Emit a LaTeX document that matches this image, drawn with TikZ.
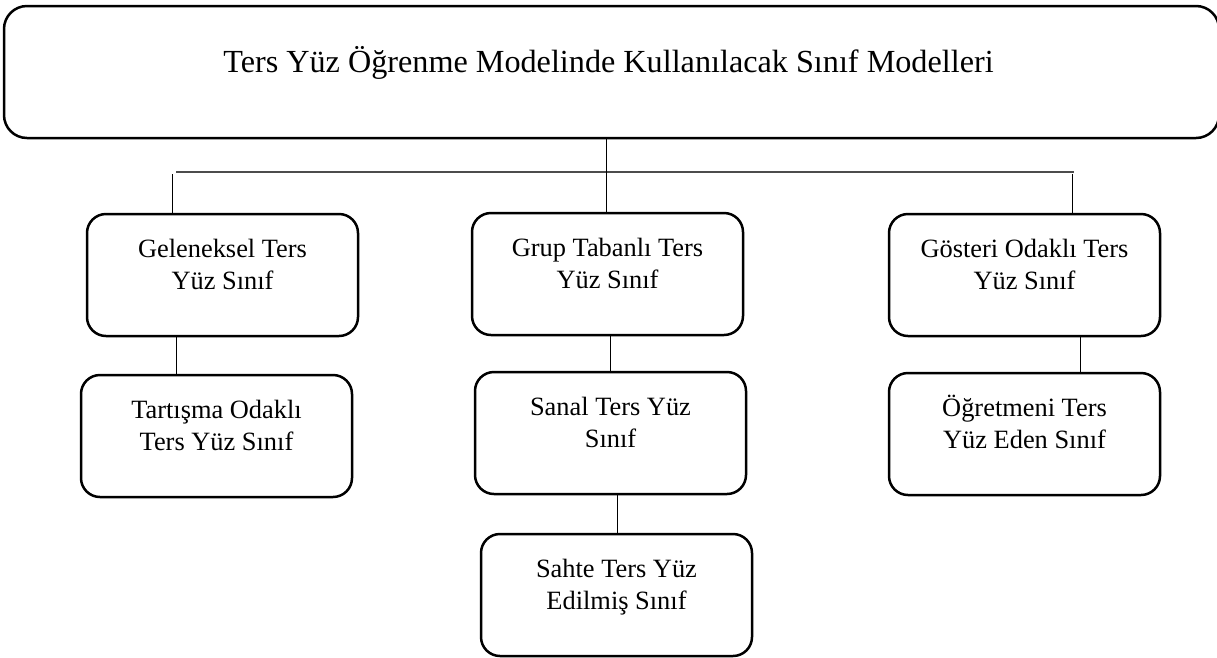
\documentclass[tikz,border=0pt]{standalone}
\usepackage{fontspec}
\setmainfont{Liberation Serif}
\usetikzlibrary{calc}
\begin{document}
\begin{tikzpicture}[x=1pt,y=-1pt,
  boxstyle/.style={draw, line width=2.5pt, rounded corners=19pt, minimum width=271pt,
    minimum height=122pt, anchor=north west, inner sep=0pt, outer sep=0pt},
  txt/.style={align=center, inner sep=0pt, font=\fontsize{26.4}{32}\selectfont},
  conn/.style={line width=1pt, black},
  hline/.style={line width=1.5pt, black!70},
]
\useasboundingbox (0,0) rectangle (1217,657);

% top box
\node[draw, line width=2.5pt, rounded corners=23pt, minimum width=1215pt, minimum height=132pt,
  anchor=north west, inner sep=0pt, outer sep=0pt] (topbox) at (4,6) {};
\node[font=\fontsize{32.2}{38}\selectfont, anchor=base, inner sep=0pt] (title) at (608.5,72)
  {Ters Yüz Öğrenme Modelinde Kullanılacak Sınıf Modelleri};

% boxes
\node[boxstyle] (b1) at (87,214) {};
\node[boxstyle] (b2) at (472,213) {};
\node[boxstyle] (b3) at (889,214) {};
\node[boxstyle] (c1) at (81,375) {};
\node[boxstyle] (c2) at (475,372) {};
\node[boxstyle] (c3) at (889,373) {};
\node[boxstyle] (g2) at (481,534) {};

% texts
\node[txt] (t1) at ($(b1.center)+(0,-8.4)$) {\strut Geleneksel Ters\\\strut Yüz Sınıf};
\node[txt] (t2) at ($(b2.center)+(0,-8.4)$) {\strut Grup Tabanlı Ters\\\strut Yüz Sınıf};
\node[txt] (t3) at ($(b3.center)+(0,-8.4)$) {\strut Gösteri Odaklı Ters\\\strut Yüz Sınıf};
\node[txt] (u1) at ($(c1.center)+(0,-8.4)$) {\strut Tartışma Odaklı\\\strut Ters Yüz Sınıf};
\node[txt] (u2) at ($(c2.center)+(0,-8.4)$) {\strut Sanal Ters Yüz\\\strut Sınıf};
\node[txt] (u3) at ($(c3.center)+(0,-8.4)$) {\strut Öğretmeni Ters\\\strut Yüz Eden Sınıf};
\node[txt] (v2) at ($(g2.center)+(0,-8.4)$) {\strut Sahte Ters Yüz\\\strut Edilmiş Sınıf};

% connectors
\coordinate (hl) at (176,172);
\coordinate (hr) at (1074,172);
\coordinate (dl) at (172,174);
\coordinate (dr) at (1072,174);
\draw[hline] (hl) -- (hr);
\draw[conn] (topbox.south -| 606,0) -- (b2.north -| 606,0);
\draw[conn] (dl) -- (b1.north -| dl);
\draw[conn] (dr) -- (b3.north -| dr);
\draw[conn] (b1.south -| 176,0) -- (c1.north -| 176,0);
\draw[conn] (b2.south -| 610,0) -- (c2.north -| 610,0);
\draw[conn] (b3.south -| 1080,0) -- (c3.north -| 1080,0);
\draw[conn] (c2.south -| 617,0) -- (g2.north -| 617,0);
\end{tikzpicture}
\end{document}
